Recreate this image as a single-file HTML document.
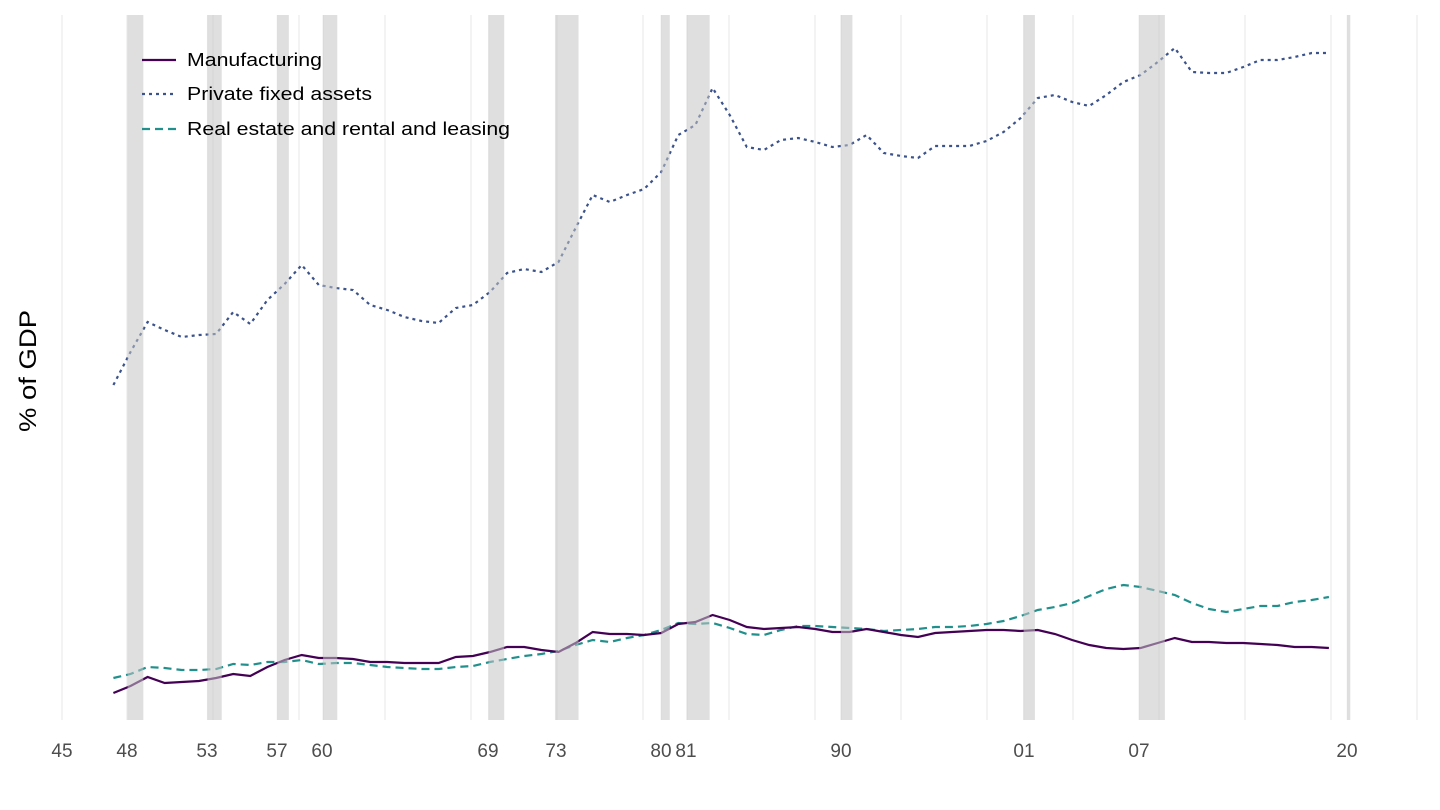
<!DOCTYPE html>
<html><head><meta charset="utf-8"><style>
html,body{margin:0;padding:0;background:#fff}
svg{display:block}
text{font-family:"Liberation Sans",Arial,sans-serif}
</style></head><body>
<svg id="c" width="1440" height="810" viewBox="0 0 1440 810" xmlns="http://www.w3.org/2000/svg">
<g id="grid" stroke="#ebebeb" stroke-width="1.2"></g>
<g id="lines" fill="none" stroke-width="2.2"></g>
<g id="shade" fill="#c4c4c4" fill-opacity="0.55"></g>
<g id="ticks" font-size="19" fill="#4d4d4d" text-anchor="middle"></g>
<text x="36" y="371" font-size="24" fill="#000" text-anchor="middle" textLength="122" lengthAdjust="spacingAndGlyphs" transform="rotate(-90 36 371)">% of GDP</text>
<g font-size="18" fill="#000">
<line x1="142" y1="60" x2="176" y2="60" stroke="#440154" stroke-width="2.2"/>
<text x="187" y="66" textLength="135" lengthAdjust="spacingAndGlyphs">Manufacturing</text>
<line x1="142" y1="94" x2="176" y2="94" stroke="#3B528B" stroke-width="2.2" stroke-dasharray="3 4"/>
<text x="187" y="100" textLength="185" lengthAdjust="spacingAndGlyphs">Private fixed assets</text>
<line x1="142" y1="129" x2="176" y2="129" stroke="#21908C" stroke-width="2.2" stroke-dasharray="8 5"/>
<text x="187" y="135" textLength="323" lengthAdjust="spacingAndGlyphs">Real estate and rental and leasing</text>
</g>
</svg>
<script>
var NS="http://www.w3.org/2000/svg";
function X(y){return 62+(y-1945)*17.12;}
function el(t,a,p){var e=document.createElementNS(NS,t);for(var k in a)e.setAttribute(k,a[k]);document.getElementById(p).appendChild(e);return e;}
var rec=[[1948.83,1949.75],[1953.5,1954.33],[1957.58,1958.25],[1960.25,1961.08],[1969.92,1970.83],[1973.83,1975.17],[1980.0,1980.5],[1981.5,1982.83],[1990.5,1991.17],[2001.17,2001.83],[2007.92,2009.42],[2020.08,2020.25]];
var gl=[62];for(var g=127;g<1430;g+=86)gl.push(g);
rec.forEach(function(r){gl.push(X(r[0]));});
gl.forEach(function(x){el("line",{x1:x,x2:x,y1:15,y2:720},"grid");});
rec.forEach(function(r){el("rect",{x:X(r[0]),y:15,width:X(r[1])-X(r[0]),height:705},"shade");});
var tk=[[62,"45"],[127,"48"],[207,"53"],[277,"57"],[322,"60"],[488,"69"],[556,"73"],[661,"80"],[686,"81"],[841,"90"],[1024,"01"],[1139,"07"],[1347,"20"]];
tk.forEach(function(t){var e=el("text",{x:t[0],y:757},"ticks");e.textContent=t[1];});
var pfa=[385,352,322,330,337,335,334,312,324,300,284,265,285,288,290,305,310,317,321,323,308,305,292,273,269,272,262,228,195,202,195,189,172,135,125,88,115,147,150,140,138,142,147,145,135,153,156,158,146,146,146,141,132,118,98,95,102,106,95,82,75,62,48,72,73,73,67,60,60,57,53,53];
var mfg=[693,686,677,683,682,681,678,674,676,667,660,655,658,658,659,662,662,663,663,663,657,656,652,647,647,650,652,643,632,634,634,635,633,624,622,615,620,627,629,628,627,629,632,632,629,632,635,637,633,632,631,630,630,631,630,634,640,645,648,649,648,643,638,642,642,643,643,644,645,647,647,648];
var re=[678,674,667,668,670,670,669,664,665,662,662,660,664,663,663,665,667,668,669,669,667,666,662,659,656,654,651,645,640,642,638,635,630,623,624,623,628,634,635,630,626,626,627,628,629,631,630,629,627,627,626,624,621,616,610,607,603,596,589,585,587,591,595,603,609,612,609,606,606,602,600,597];
function pl(d,c,da){var p=d.map(function(v,i){return X(1948+i).toFixed(1)+","+v;}).join(" ");var a={points:p,stroke:c};if(da)a["stroke-dasharray"]=da;el("polyline",a,"lines");}
pl(re,"#21908C","8 5");
pl(mfg,"#440154",null);
pl(pfa,"#3B528B","3 4");
</script>
</body></html>
